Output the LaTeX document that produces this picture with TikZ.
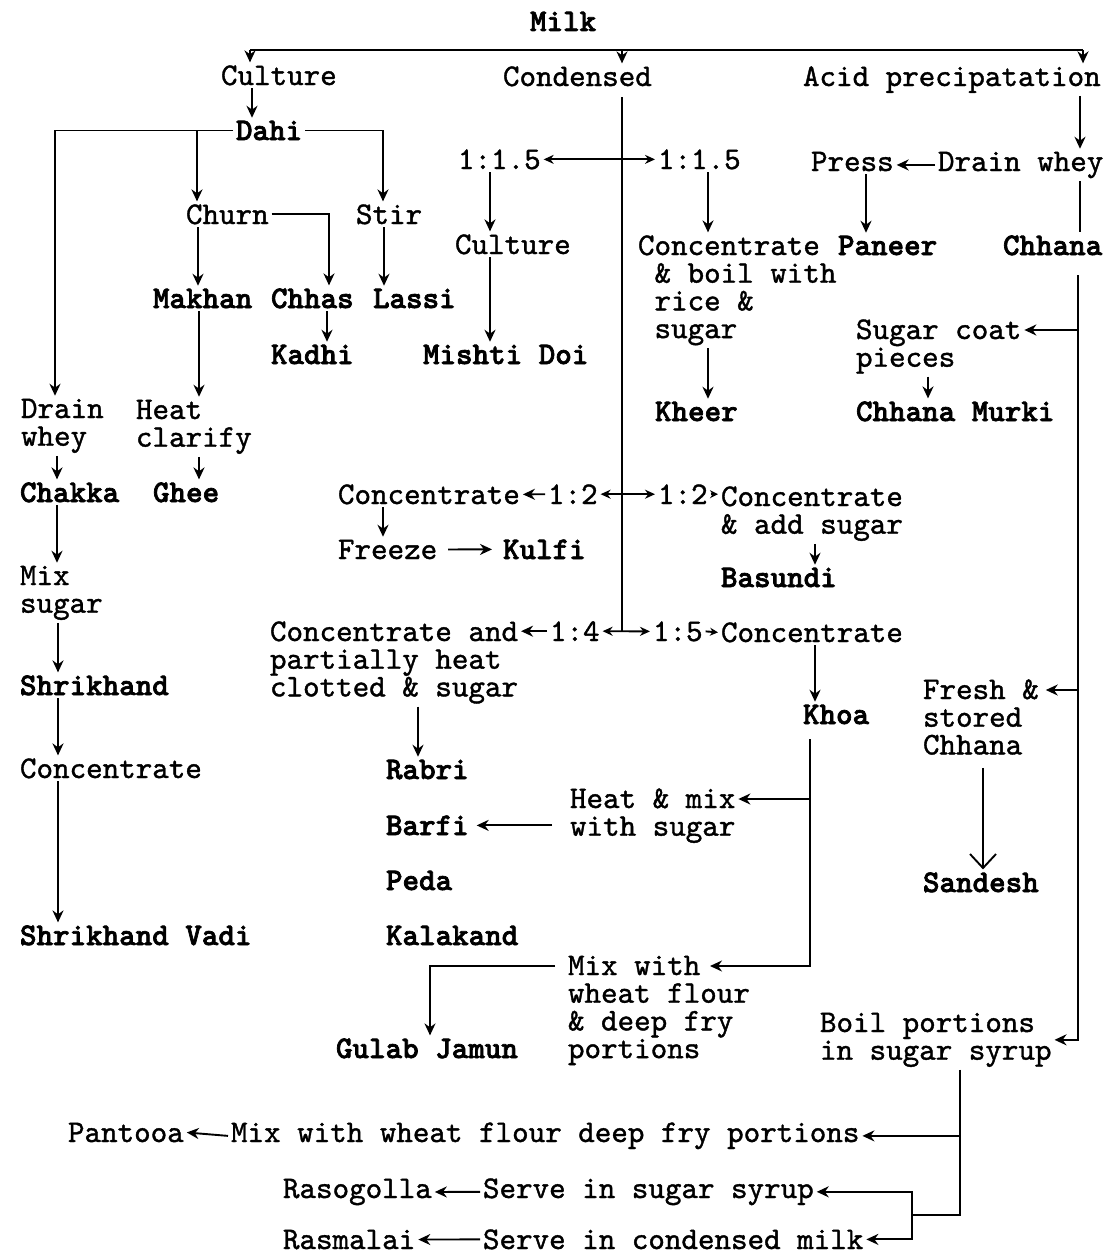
\documentclass[tikz,border=0pt]{standalone}
\usepackage{fontspec}
\usetikzlibrary{arrows.meta,calc}
\newfontfamily\twfam{lmmono10-regular.otf}[BoldFont=lmmonolt10-bold.otf, UprightFeatures={FakeBold=1.2}, BoldFeatures={FakeBold=2.2}]
\newcommand\tw{\twfam\fontsize{31.5}{27.7}\selectfont}
% stacked lines, baseline on the first line
\newcommand\ml[1]{\vtop{\lineskiplimit=-50pt\relax\halign{##\hfil\cr#1\crcr}}}
\begin{document}
\begin{tikzpicture}[x=1pt,y=-1pt,
  txt/.style={anchor=base west, inner sep=0pt, outer sep=3pt, font=\tw},
  bld/.style={txt, font=\tw\bfseries},
  ln/.style={line width=1.9pt},
  arr/.style={ln, -{Stealth[length=12pt,width=11pt]}},
  sarr/.style={ln, -{Stealth[length=8pt,width=8pt]}},
  dbl/.style={ln, {Stealth[length=10pt,width=9pt]}-{Stealth[length=10pt,width=9pt]}},
  vee/.style={ln, -{Straight Barb[length=14pt,width=26pt]}}]
\fill[white] (0,0) rectangle (1104,1255);
\useasboundingbox (0,0) rectangle (1104,1255);

% ---------- nodes ----------
\node[bld] (milk) at (527,31) {Milk};
\node[txt] (culture) at (218,85) {Culture};
\node[txt] (condensed) at (500,86) {Condensed};
\node[txt] (acid) at (800,86) {Acid precipatation};

\node[bld] (dahi) at (233,140) {Dahi};
\node[txt] (churn) at (183,224) {Churn};
\node[txt] (stir) at (353,224) {Stir};
\node[bld] (makhan) at (150,308) {Makhan};
\node[bld] (chhas) at (268,308) {Chhas};
\node[bld] (lassi) at (370,308) {Lassi};
\node[bld] (kadhi) at (268,364) {Kadhi};
\node[txt] (drainL) at (18,418) {\ml{Drain\cr whey}};
\node[txt] (heat) at (133,419) {\ml{Heat\cr clarify}};
\node[bld] (chakka) at (17,502) {Chakka};
\node[bld] (ghee) at (150,502) {Ghee};
\node[txt] (mixsugar) at (17,585) {\ml{Mix\cr sugar}};
\node[bld] (shrikhand) at (17,695) {Shrikhand};
\node[txt] (concS) at (17,778) {Concentrate};
\node[bld] (vadi) at (17,945) {Shrikhand Vadi};

\node[txt] (r15L) at (455,169) {1:1.5};
\node[txt] (r15R) at (655,169) {1:1.5};
\node[txt] (culture2) at (452,254) {Culture};
\node[bld] (doi) at (420,364) {Mishti Doi};
\node[txt] (concB) at (635,255) {\ml{Concentrate\cr\hphantom{x}\& boil with\cr\hphantom{x}rice \&\cr\hphantom{x}sugar}};
\node[bld] (kheer) at (652,421) {Kheer};

\node[txt] (press) at (808,171) {Press};
\node[txt] (drainR) at (935,171) {Drain whey};
\node[bld] (paneer) at (835,255) {Paneer};
\node[bld] (chhana) at (1000,255) {Chhana};
\node[txt] (sugar) at (853,339) {\ml{Sugar coat\cr pieces}};
\node[bld] (murki) at (853,421) {Chhana Murki};

\node[txt] (conc2) at (335,504) {Concentrate};
\node[txt] (r12L) at (545,504) {1:2};
\node[txt] (r12R) at (655,504) {1:2};
\node[txt] (concAdd) at (718,506) {\ml{Concentrate\cr\& add sugar}};
\node[bld] (basundi) at (718,587) {Basundi};
\node[txt] (freeze) at (335,559) {Freeze};
\node[bld] (kulfi) at (500,559) {Kulfi};

\node[txt] (concAnd) at (267,641) {\ml{Concentrate and\cr partially heat\cr clotted \& sugar}};
\node[txt] (r14) at (547,641) {1:4};
\node[txt] (r15) at (650,641) {1:5};
\node[txt] (concK) at (718,642) {Concentrate};
\node[bld] (khoa) at (800,724) {Khoa};

\node[bld] (rabri) at (383,779) {Rabri};
\node[bld] (barfi) at (383,835) {Barfi};
\node[bld] (peda) at (383,890) {Peda};
\node[bld] (kalakand) at (383,945) {Kalakand};
\node[txt] (heatmix) at (567,808) {\ml{Heat \& mix\cr with sugar}};
\node[txt] (mixwith) at (565,975) {\ml{Mix with\cr wheat flour\cr\& deep fry\cr portions}};
\node[bld] (gulab) at (333,1058) {Gulab Jamun};

\node[txt] (fresh) at (920,699) {\ml{Fresh \&\cr stored\cr Chhana}};
\node[bld] (sandesh) at (920,892) {Sandesh};
\node[txt] (boil) at (817,1032) {\ml{Boil portions\cr in sugar syrup}};

\node[txt] (pantooa) at (65,1142) {Pantooa};
\node[txt] (mixB) at (228,1142) {Mix with wheat flour deep fry portions};
\node[txt] (raso) at (280,1198) {Rasogolla};
\node[txt] (serveS) at (480,1198) {Serve in sugar syrup};
\node[txt] (rasm) at (280,1249) {Rasmalai};
\node[txt] (serveC) at (480,1249) {Serve in condensed milk};

% ---------- connectors ----------
\coordinate (busL) at (250,50);
\coordinate (busR) at (1083,50);
\draw[ln] (busL) -- (busR);
\draw[arr] (busL) -- (culture.north -| busL);
\draw[arr] (busL -| 622,0) -- (condensed.north -| 622,0);
\draw[arr] (busR) -- (acid.north -| busR);

% culture branch
\draw[arr] (culture.south -| 252,0) -- (dahi.north -| 252,0);
\draw[arr] (dahi.west) -| (drainL.north -| 55,0);
\draw[arr] (dahi.west -| 197,0) -- (churn.north -| 197,0);
\draw[arr] (dahi.east) -| (stir.north -| 383,0);
\draw[arr] (churn.south -| 198,0) -- (makhan.north -| 198,0);
\draw[arr] (churn.east) -| (chhas.north -| 329,0);
\draw[arr] (stir.south -| 384,0) -- (lassi.north -| 384,0);
\draw[arr] (chhas.south -| 327,0) -- (kadhi.north -| 327,0);
\draw[arr] (makhan.south -| 199,0) -- (heat.north -| 199,0);
\draw[arr] (drainL.south -| 57,0) -- (chakka.north -| 57,0);
\draw[arr] (heat.south -| 199,0) -- (ghee.north -| 199,0);
\draw[arr] (chakka.south -| 57,0) -- (mixsugar.north -| 57,0);
\draw[arr] (mixsugar.south -| 58,0) -- (shrikhand.north -| 58,0);
\draw[arr] (shrikhand.south -| 58,0) -- (concS.north -| 58,0);
\draw[arr] (concS.south -| 58,0) -- (vadi.north -| 58,0);

% condensed branch
\draw[ln, shorten <=8pt] (condensed.south -| 622,0) -- (r14.east -| 622,0);
\draw[dbl] (r15L.east) -- (r15R.west);
\draw[arr] (r15L.south -| 490,0) -- (culture2.north -| 490,0);
\draw[arr] (culture2.south -| 490,0) -- (doi.north -| 490,0);
\draw[arr] (r15R.south -| 708,0) -- (concB.north -| 708,0);
\draw[arr] (concB.south -| 708,0) -- (kheer.north -| 708,0);

\draw[arr] (r12L.west) -- (conc2.east);
\draw[dbl] (r12L.east) -- (r12R.west);
\draw[sarr] (r12R.east) -- (concAdd.west |- r12R.east);
\draw[arr] (concAdd.south -| 815,0) -- (basundi.north -| 815,0);
\draw[arr] (conc2.south -| 383,0) -- (freeze.north -| 383,0);
\draw[arr, shorten <=8pt, shorten >=8pt] (freeze.east) -- (kulfi.west);

\draw[arr] (r14.west) -- (concAnd.east |- r14.west);
\draw[dbl] (r14.east) -- (r15.west);
\draw[sarr] (r15.east) -- (concK.west);
\draw[arr] (concAnd.south -| 418,0) -- (rabri.north -| 418,0);
\draw[arr] (concK.south -| 815,0) -- (khoa.north -| 815,0);

% khoa branch
\draw[arr, shorten <=12pt] (khoa.south -| 810,0) |- ($(heatmix.base east)+(0,-9)$);
\draw[arr, shorten <=12pt] (khoa.south -| 810,0) |- ($(mixwith.base west)+(145,-9)$);
\draw[arr, shorten <=15pt, shorten >=5pt] (heatmix.west |- barfi.east) -- (barfi.east);
\draw[arr] ($(mixwith.base west)+(-10,-9)$) -| (gulab.north -| 430,0);

% acid precipitation branch
\draw[arr] (acid.south -| 1080,0) -- (drainR.north -| 1080,0);
\draw[arr] (drainR.west) -- (press.east |- drainR.west);
\draw[arr] (press.south -| 866,0) -- (paneer.north -| 866,0);
\draw[ln] (drainR.south -| 1080,0) -- (chhana.north -| 1080,0);
\draw[arr, shorten <=17pt] (chhana.south -| 1078,0) |- ($(sugar.base east)+(0,-9)$);
\draw[arr, shorten <=17pt] (chhana.south -| 1078,0) |- ($(fresh.base east)+(4,-9)$);
\draw[arr, shorten <=17pt] (chhana.south -| 1078,0) |- (boil.east);
\draw[arr] (sugar.south -| 928,0) -- (murki.north -| 928,0);
\draw[vee, shorten <=10pt] (fresh.south -| 983,0) -- (sandesh.north -| 983,0);

% syrup-boiled portions
\coordinate (split) at (912,1215);
\draw[arr] (boil.south -| 960,0) |- (mixB.east);
\draw[arr] (boil.south -| 960,0) |- (split) |- (serveS.east);
\draw[arr] (split) |- (serveC.east);
\draw[arr] (mixB.west) -- (pantooa.east);
\draw[arr] (serveS.west) -- (raso.east);
\draw[arr] (serveC.west) -- (rasm.east);
\end{tikzpicture}
\end{document}
